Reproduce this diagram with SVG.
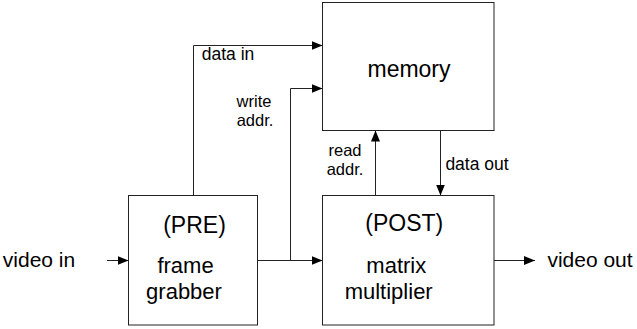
<svg xmlns="http://www.w3.org/2000/svg" width="637" height="329" viewBox="0 0 637 329">
<style>
.box{fill:#fff;stroke:#222;stroke-width:1}
.ln{fill:none;stroke:#222;stroke-width:1}
.t{font-family:"Liberation Sans",Arial,sans-serif;fill:#000;text-anchor:middle}
.big{font-size:23px}
.big2{font-size:22px}
.mid{font-size:21px}
.sm{font-size:17.5px}
.sm2{font-size:16.5px}
</style>
<defs>
<marker id="ah" markerUnits="userSpaceOnUse" markerWidth="11" markerHeight="10" refX="11" refY="4.5" orient="auto">
<path d="M0,0 L11,4.5 L0,9 z" fill="#000"/>
</marker>
</defs>
<rect width="637" height="329" fill="#fff"/>
<g id="connectors">
<path class="ln" d="M107,260.5 H128.5" marker-end="url(#ah)"/>
<path class="ln" d="M257.5,260.5 H322.5" marker-end="url(#ah)"/>
<path class="ln" d="M290.5,260.5 V88.5 H322.5" marker-end="url(#ah)"/>
<path class="ln" d="M193.5,195.5 V45.5 H322.5" marker-end="url(#ah)"/>
<path class="ln" d="M375.5,195.5 V130.5" marker-end="url(#ah)"/>
<path class="ln" d="M440.5,130.5 V195.5" marker-end="url(#ah)"/>
<path class="ln" d="M494,260.5 H535" marker-end="url(#ah)"/>
<text class="t sm" x="228" y="60">data in</text>
<text class="t sm2"><tspan x="254" y="107">write</tspan><tspan x="255" y="126">addr.</tspan></text>
<text class="t sm2"><tspan x="345" y="156">read</tspan><tspan x="345" y="175">addr.</tspan></text>
<text class="t sm" x="477" y="170">data out</text>
<text class="t mid" x="39" y="267">video in</text>
<text class="t mid" x="590" y="267">video out</text>
</g>
<g id="memory">
<rect class="box" x="322.5" y="2.5" width="171.5" height="128"/>
<text class="t big" x="409" y="77">memory</text>
</g>
<g id="frame-grabber">
<rect class="box" x="128.5" y="195.5" width="129" height="129.5"/>
<text class="t big" x="194.5" y="233">(PRE)</text>
<text class="t big2"><tspan x="185.5" y="273">frame</tspan><tspan x="184" y="298.5">grabber</tspan></text>
</g>
<g id="matrix-multiplier">
<rect class="box" x="322.5" y="195.5" width="171.5" height="129.5"/>
<text class="t big" x="404.3" y="231">(POST)</text>
<text class="t big2"><tspan x="396.3" y="273">matrix</tspan><tspan x="388.7" y="298.5">multiplier</tspan></text>
</g>
</svg>
